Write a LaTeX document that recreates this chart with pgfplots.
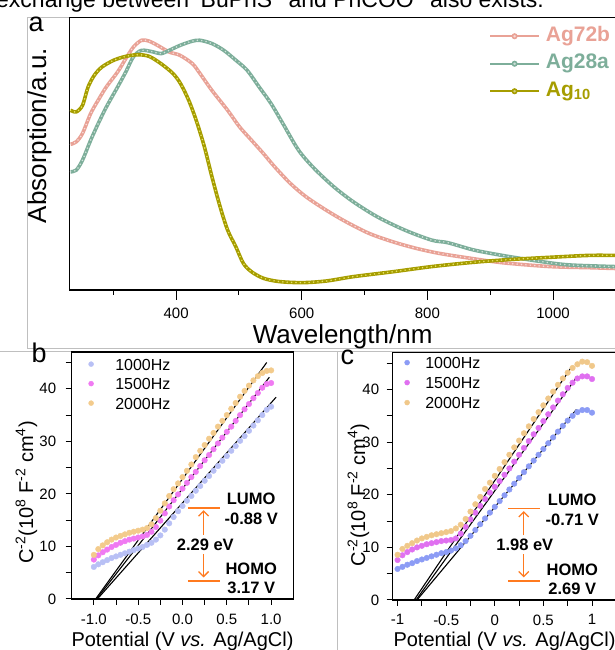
\documentclass[border=0pt]{standalone}
\usepackage{fontspec}
\setmainfont{Liberation Sans}
\usepackage{pgfplots}
\pgfplotsset{compat=1.18}
\usetikzlibrary{arrows.meta}
\definecolor{c72}{HTML}{E9A296}
\definecolor{c28}{HTML}{7DAE9A}
\definecolor{c10}{HTML}{A69D00}
\definecolor{bA}{HTML}{B8C0F5}
\definecolor{bB}{HTML}{F07AF2}
\definecolor{bC}{HTML}{F3CB8C}
\definecolor{cA}{HTML}{8C9CF5}
\definecolor{cB}{HTML}{E070F0}
\definecolor{cC}{HTML}{F0C88A}
\definecolor{orn}{HTML}{FF7A1F}
\newcommand\fs[2]{\fontsize{#1}{#2}\selectfont}
\pgfplotsset{
  panel/.style={scale only axis, tick align=outside,
    axis line style={line width=1.1pt},
    every tick/.style={black,line width=1pt},
    xtick pos=lower, ytick pos=left,
    /pgf/number format/assume math mode=true,
    tick label style={font=\fs{15}{18}}},
  dots/.style={color=#1, only marks, mark=*, mark size=2.8pt, mark options={draw=none, fill=#1}},
  fitl/.style={black, line width=1.1pt},
  band/.style={#1, line width=3.6pt, smooth, forget plot},
  beads/.style={#1, line width=1.7pt, smooth, forget plot, line cap=round, dash pattern=on 0pt off 4.4pt},
}
\tikzset{
  ann/.style={orn, line width=1.5pt},
  arr/.style={orn, line width=1.3pt, -{Straight Barb[length=5pt,width=10pt]}},
  lab/.style={font=\bfseries\fs{16.5}{19}},
}
\pgfplotstableread{
w a
232 53.5
241 54.4
251 57.5
264 64.8
276 69.7
289 74.6
307 80.1
320 85.0
332 89.2
345 91.7
357 91.4
370 89.9
389 87.4
406 86.2
426 83.1
438 79.5
457 73.3
482 66.0
501 59.9
520 55.0
539 50.1
557 45.2
582 39.1
607 34.2
639 29.3
670 25.1
707 20.8
745 17.7
782 15.3
820 13.4
870 11.6
920 10.0
995 8.6
1057 8.2
1099 7.9
}\tblA
\pgfplotstableread{
w a
232 43.4
241 44.0
251 47.7
264 55.0
276 61.1
289 67.2
307 74.6
320 80.1
332 85.6
345 88.0
364 87.4
376 86.8
389 88.0
407 89.9
426 91.4
438 91.7
457 90.5
476 88.0
495 84.4
513 80.7
532 74.6
551 68.5
570 61.1
595 51.3
620 44.6
651 37.9
682 32.4
720 26.9
764 22.0
807 18.3
832 17.4
870 14.9
895 13.7
932 12.2
982 10.4
1026 9.2
1099 8.6
}\tblB
\pgfplotstableread{
w a
232 66.0
241 65.4
251 67.8
260 74.6
270 78.9
282 81.9
301 84.4
320 85.8
339 86.4
357 85.8
376 83.1
395 79.5
407 75.8
420 69.7
432 62.3
445 52.6
457 41.6
470 30.6
482 22.0
495 15.9
507 9.8
520 6.7
539 4.3
564 3.1
601 2.7
639 3.3
682 4.9
745 6.7
807 8.6
870 10.1
932 11.2
995 12.0
1057 12.7
1099 12.7
}\tblC
\begin{document}
\begin{tikzpicture}[x=1pt,y=1pt]
% faint frame lines of the source figure
\draw[black!25, line width=0.8pt] (27,632.5) -- (615,632.5);
\draw[black!25, line width=0.8pt] (27,632.5) -- (27,301.5) -- (615,301.5);
\draw[black!25, line width=0.8pt] (0,298.5) -- (615,298.5);
\draw[black!25, line width=0.8pt] (337,298.5) -- (337,0);
\node[anchor=base west, inner sep=0pt, font=\fs{23}{27}] at (-4,642.7) {exchange between \textsuperscript{t}BuPhS\textsuperscript{−} and PhCOO\textsuperscript{−} also exists.};

% ---------------- panel a ----------------
\begin{axis}[panel, at={(69.3pt,632.3pt)}, anchor=north west,
  width=546.6pt, height=272.3pt,
  xmin=230, xmax=1100, ymin=0, ymax=100,
  ytick=\empty,
  xtick={400,600,800,1000}, xticklabels={400,600,800,1000},
  minor xtick={300,500,700,900,1100},
  major tick length=10pt, minor tick length=5pt,
  xticklabel shift=4pt,
  legend cell align=left,
  legend style={at={(0.768,0.973)}, anchor=north west, draw=none, fill=none,
    inner sep=0pt, row sep=5.5pt,
    nodes={inner sep=1pt, text height=15pt, text depth=5pt},
    font=\bfseries\fs{21}{25},
    /tikz/every odd column/.append style={column sep=5pt}},
  legend image code/.code={\draw[mark repeat=2,mark phase=2,#1] plot coordinates {(0pt,0pt) (24.5pt,0pt) (49pt,0pt)};},
]
\addplot[band=c72] table[x=w,y=a] {\tblA};
\addplot[beads=c72!35!white] table[x=w,y=a] {\tblA};
\addplot[band=c28] table[x=w,y=a] {\tblB};
\addplot[beads=c28!35!white] table[x=w,y=a] {\tblB};
\addplot[band=c10] table[x=w,y=a] {\tblC};
\addplot[beads=c10!45!yellow!60!white] table[x=w,y=a] {\tblC};
\addlegendimage{c72, line width=1.6pt, mark=*, mark size=2.2pt, mark options={fill=c72!40!white}}
\addlegendentry{\textcolor{c72}{Ag72b}}
\addlegendimage{c28, line width=1.6pt, mark=*, mark size=2.2pt, mark options={fill=c28!40!white}}
\addlegendentry{\textcolor{c28}{Ag28a}}
\addlegendimage{c10, line width=1.6pt, mark=*, mark size=2.2pt, mark options={fill=c10!50!white}}
\addlegendentry{\textcolor{c10}{Ag\textsubscript{10}}}
\end{axis}
\node[rotate=90, anchor=base, font=\fs{26}{30}] at (46,514.3) {Absorption/a.u.};
\node[anchor=base, font=\fs{26}{30}] at (342.6,306) {Wavelength/nm};
\node[anchor=base west, inner sep=0pt, font=\fs{27}{30}] at (28.5,618) {a};

% ---------------- panel b ----------------
\begin{axis}[panel, at={(71.7pt,298pt)}, anchor=north west,
  width=221.6pt, height=247pt,
  xmin=-1.25, xmax=1.25, ymin=0, ymax=47,
  xtick={-1,-0.5,0,0.5,1}, xticklabels={-1.0,-0.5,0.0,0.5,1.0},
  minor xtick={-0.75,-0.25,0.25,0.75},
  ytick={0,10,20,30,40}, minor ytick={5,15,25,35,45},
  major tick length=6pt, minor tick length=6pt,
  xticklabel shift=5pt, yticklabel shift=6pt,
  legend cell align=left,
  legend style={at={(0.0745,0.98)}, anchor=north west, draw=none, fill=none,
    inner sep=0pt, row sep=5.5pt,
    nodes={inner sep=1pt, text height=12pt, text depth=0pt},
    font=\fs{16}{19},
    /tikz/every odd column/.append style={column sep=20.5pt}},
  legend image code/.code={\path (-2.5pt,0pt) (2.5pt,0pt); \draw[#1, mark size=2.5pt] plot coordinates {(0pt,0pt)};},
]
\addplot[dots=bA] coordinates {
(-1.00,6.1) (-0.95,6.6) (-0.90,7.0) (-0.85,7.4) (-0.80,7.8) (-0.75,8.1) (-0.70,8.4) (-0.65,8.7) (-0.60,9.0) (-0.55,9.3) (-0.50,9.6) (-0.45,9.9) (-0.40,10.3) (-0.35,10.7) (-0.30,11.3) (-0.25,12.1) (-0.20,13.2) (-0.15,14.4) (-0.10,15.6) (-0.05,16.7) (0.00,17.7) (0.05,18.7) (0.10,19.6) (0.15,20.6) (0.20,21.5) (0.25,22.5) (0.30,23.4) (0.35,24.4) (0.40,25.3) (0.45,26.3) (0.50,27.2) (0.55,28.2) (0.60,29.1) (0.65,30.1) (0.70,31.0) (0.75,32.0) (0.80,33.0) (0.85,34.0) (0.90,35.0) (0.95,36.0) (1.00,36.6)};
\addlegendentry{1000Hz}
\addplot[dots=bB] coordinates {
(-1.00,7.5) (-0.95,8.3) (-0.90,8.9) (-0.85,9.4) (-0.80,9.9) (-0.75,10.3) (-0.70,10.7) (-0.65,11.0) (-0.60,11.3) (-0.55,11.5) (-0.50,11.7) (-0.45,11.9) (-0.40,12.2) (-0.35,12.8) (-0.30,13.7) (-0.25,14.9) (-0.20,16.3) (-0.15,17.6) (-0.10,18.8) (-0.05,19.9) (0.00,21.0) (0.05,22.1) (0.10,23.2) (0.15,24.2) (0.20,25.3) (0.25,26.4) (0.30,27.4) (0.35,28.5) (0.40,29.6) (0.45,30.7) (0.50,31.8) (0.55,32.8) (0.60,33.9) (0.65,35.0) (0.70,36.1) (0.75,37.1) (0.80,38.2) (0.85,39.2) (0.90,40.2) (0.95,40.9) (1.00,41.1)};
\addlegendentry{1500Hz}
\addplot[dots=bC] coordinates {
(-1.00,8.4) (-0.95,9.5) (-0.90,10.2) (-0.85,10.8) (-0.80,11.3) (-0.75,11.7) (-0.70,12.0) (-0.65,12.3) (-0.60,12.6) (-0.55,12.8) (-0.50,13.0) (-0.45,13.2) (-0.40,13.5) (-0.35,14.2) (-0.30,15.4) (-0.25,16.8) (-0.20,18.2) (-0.15,19.6) (-0.10,20.9) (-0.05,22.0) (0.00,23.2) (0.05,24.4) (0.10,25.6) (0.15,27.0) (0.20,28.2) (0.25,29.3) (0.30,30.5) (0.35,31.6) (0.40,32.8) (0.45,33.9) (0.50,35.0) (0.55,36.2) (0.60,37.3) (0.65,38.5) (0.70,39.6) (0.75,40.6) (0.80,41.6) (0.85,42.4) (0.90,43.0) (0.95,43.4) (1.00,43.5)};
\addlegendentry{2000Hz}
\addplot[fitl, forget plot] coordinates {(-0.98,0) (0.95,45.0)};
\addplot[fitl, forget plot] coordinates {(-0.97,0) (0.98,42.2)};
\addplot[fitl, forget plot] coordinates {(-0.96,0) (1.056,38.4)};
\draw[ann] (axis cs:0.062,17.3) -- (axis cs:0.418,17.3);
\draw[ann] (axis cs:0.062,3.4) -- (axis cs:0.418,3.4);
\draw[arr] (axis cs:0.238,12.2) -- (axis cs:0.238,16.9);
\draw[arr] (axis cs:0.238,8.6) -- (axis cs:0.238,4.1);
\node[lab, fill=white, inner sep=2pt] at (axis cs:0.257,10.3) {2.29 eV};
\node[lab] at (axis cs:0.775,19.0) {LUMO};
\node[lab] at (axis cs:0.775,15.2) {-0.88 V};
\node[lab] at (axis cs:0.775,5.7) {HOMO};
\node[lab] at (axis cs:0.775,2.1) {3.17 V};
\end{axis}
\node[rotate=90, anchor=base, font=\fs{20}{24}] at (33,157.5) {C\textsuperscript{-2}(10\textsuperscript{8} F\textsuperscript{-2} cm\textsuperscript{4})};
\node[anchor=base, font=\fs{20}{24}] at (182.5,4) {Potential (V \textit{vs.} Ag/AgCl)};
\node[anchor=base west, inner sep=0pt, font=\fs{27}{30}] at (31.5,287) {b};

% ---------------- panel c ----------------
\begin{axis}[panel, at={(392.7pt,297.3pt)}, anchor=north west,
  width=223.6pt, height=247.3pt,
  xmin=-1.05, xmax=1.25, ymin=0, ymax=47,
  xtick={-1,-0.5,0,0.5,1}, xticklabels={-1,-0.5,0,0.5,1},
  minor xtick={-0.75,-0.25,0.25,0.75},
  ytick={0,10,20,30,40}, minor ytick={5,15,25,35,45},
  major tick length=6pt, minor tick length=6pt,
  xticklabel shift=5pt, yticklabel shift=4pt,
  legend cell align=left,
  legend style={at={(0.0514,0.989)}, anchor=north west, draw=none, fill=none,
    inner sep=0pt, row sep=6pt,
    nodes={inner sep=1pt, text height=12pt, text depth=0pt},
    font=\fs{16}{19},
    /tikz/every odd column/.append style={column sep=14.5pt}},
  legend image code/.code={\path (-2.5pt,0pt) (2.5pt,0pt); \draw[#1, mark size=2.5pt] plot coordinates {(0pt,0pt)};},
]
\addplot[dots=cA] coordinates {
(-1.00,5.9) (-0.95,6.3) (-0.90,6.7) (-0.85,7.0) (-0.80,7.4) (-0.75,7.7) (-0.70,8.0) (-0.65,8.3) (-0.60,8.6) (-0.55,8.9) (-0.50,9.1) (-0.45,9.4) (-0.40,9.8) (-0.35,10.4) (-0.30,11.2) (-0.25,12.2) (-0.20,13.3) (-0.15,14.4) (-0.10,15.5) (-0.05,16.6) (0.00,17.7) (0.05,18.8) (0.10,19.9) (0.15,21.0) (0.20,22.1) (0.25,23.2) (0.30,24.3) (0.35,25.4) (0.40,26.5) (0.45,27.6) (0.50,28.7) (0.55,29.8) (0.60,30.9) (0.65,32.0) (0.70,33.1) (0.75,34.1) (0.80,35.0) (0.85,35.7) (0.90,36.1) (0.95,36.1) (1.00,35.6)};
\addlegendentry{1000Hz}
\addplot[dots=cB] coordinates {
(-1.00,7.6) (-0.95,8.5) (-0.90,9.1) (-0.85,9.6) (-0.80,10.0) (-0.75,10.3) (-0.70,10.6) (-0.65,10.8) (-0.60,11.0) (-0.55,11.2) (-0.50,11.3) (-0.45,11.4) (-0.40,11.7) (-0.35,12.6) (-0.30,13.9) (-0.25,15.3) (-0.20,16.6) (-0.15,17.9) (-0.10,19.2) (-0.05,20.4) (0.00,21.5) (0.05,22.6) (0.10,23.8) (0.15,25.0) (0.20,26.3) (0.25,27.6) (0.30,28.9) (0.35,30.2) (0.40,31.5) (0.45,32.7) (0.50,34.0) (0.55,35.3) (0.60,36.6) (0.65,37.9) (0.70,39.1) (0.75,40.3) (0.80,41.3) (0.85,42.1) (0.90,42.5) (0.95,42.5) (1.00,42.0)};
\addlegendentry{1500Hz}
\addplot[dots=cC] coordinates {
(-1.00,8.6) (-0.95,9.7) (-0.90,10.3) (-0.85,10.8) (-0.80,11.3) (-0.75,11.7) (-0.70,12.0) (-0.65,12.3) (-0.60,12.5) (-0.55,12.7) (-0.50,12.9) (-0.45,13.1) (-0.40,13.6) (-0.35,14.3) (-0.30,15.4) (-0.25,16.8) (-0.20,18.2) (-0.15,19.6) (-0.10,21.1) (-0.05,22.3) (0.00,23.6) (0.05,24.9) (0.10,26.2) (0.15,27.6) (0.20,29.0) (0.25,30.3) (0.30,31.7) (0.35,33.0) (0.40,34.4) (0.45,35.7) (0.50,37.0) (0.55,38.3) (0.60,39.6) (0.65,40.9) (0.70,42.1) (0.75,43.2) (0.80,44.1) (0.85,44.8) (0.90,45.3) (0.95,45.2) (1.00,44.5)};
\addlegendentry{2000Hz}
\addplot[fitl, forget plot] coordinates {(-0.83,0) (0.779,44.0)};
\addplot[fitl, forget plot] coordinates {(-0.81,0) (0.833,42.1)};
\addplot[fitl, forget plot] coordinates {(-0.80,0) (0.84,36.2)};
\draw[ann] (axis cs:0.137,17.4) -- (axis cs:0.463,17.4);
\draw[ann] (axis cs:0.137,3.6) -- (axis cs:0.463,3.6);
\draw[arr] (axis cs:0.298,12.3) -- (axis cs:0.298,16.9);
\draw[arr] (axis cs:0.298,8.7) -- (axis cs:0.298,4.3);
\node[lab, fill=white, inner sep=2pt] at (axis cs:0.309,10.4) {1.98 eV};
\node[lab] at (axis cs:0.797,19.1) {LUMO};
\node[lab] at (axis cs:0.797,15.3) {-0.71 V};
\node[lab] at (axis cs:0.797,5.8) {HOMO};
\node[lab] at (axis cs:0.797,2.2) {2.69 V};
\end{axis}
\node[rotate=90, anchor=base, font=\fs{20}{24}] at (365,155) {C\textsuperscript{-2}(10\textsuperscript{8} F\textsuperscript{-2} cm\textsuperscript{4})};
\node[anchor=base, font=\fs{20}{24}] at (504.5,4) {Potential (V \textit{vs.} Ag/AgCl)};
\node[anchor=base west, inner sep=0pt, font=\fs{27}{30}] at (340.5,285.7) {c};

\pgfresetboundingbox
\path[use as bounding box] (0,0) rectangle (615,650);
\end{tikzpicture}
\end{document}
